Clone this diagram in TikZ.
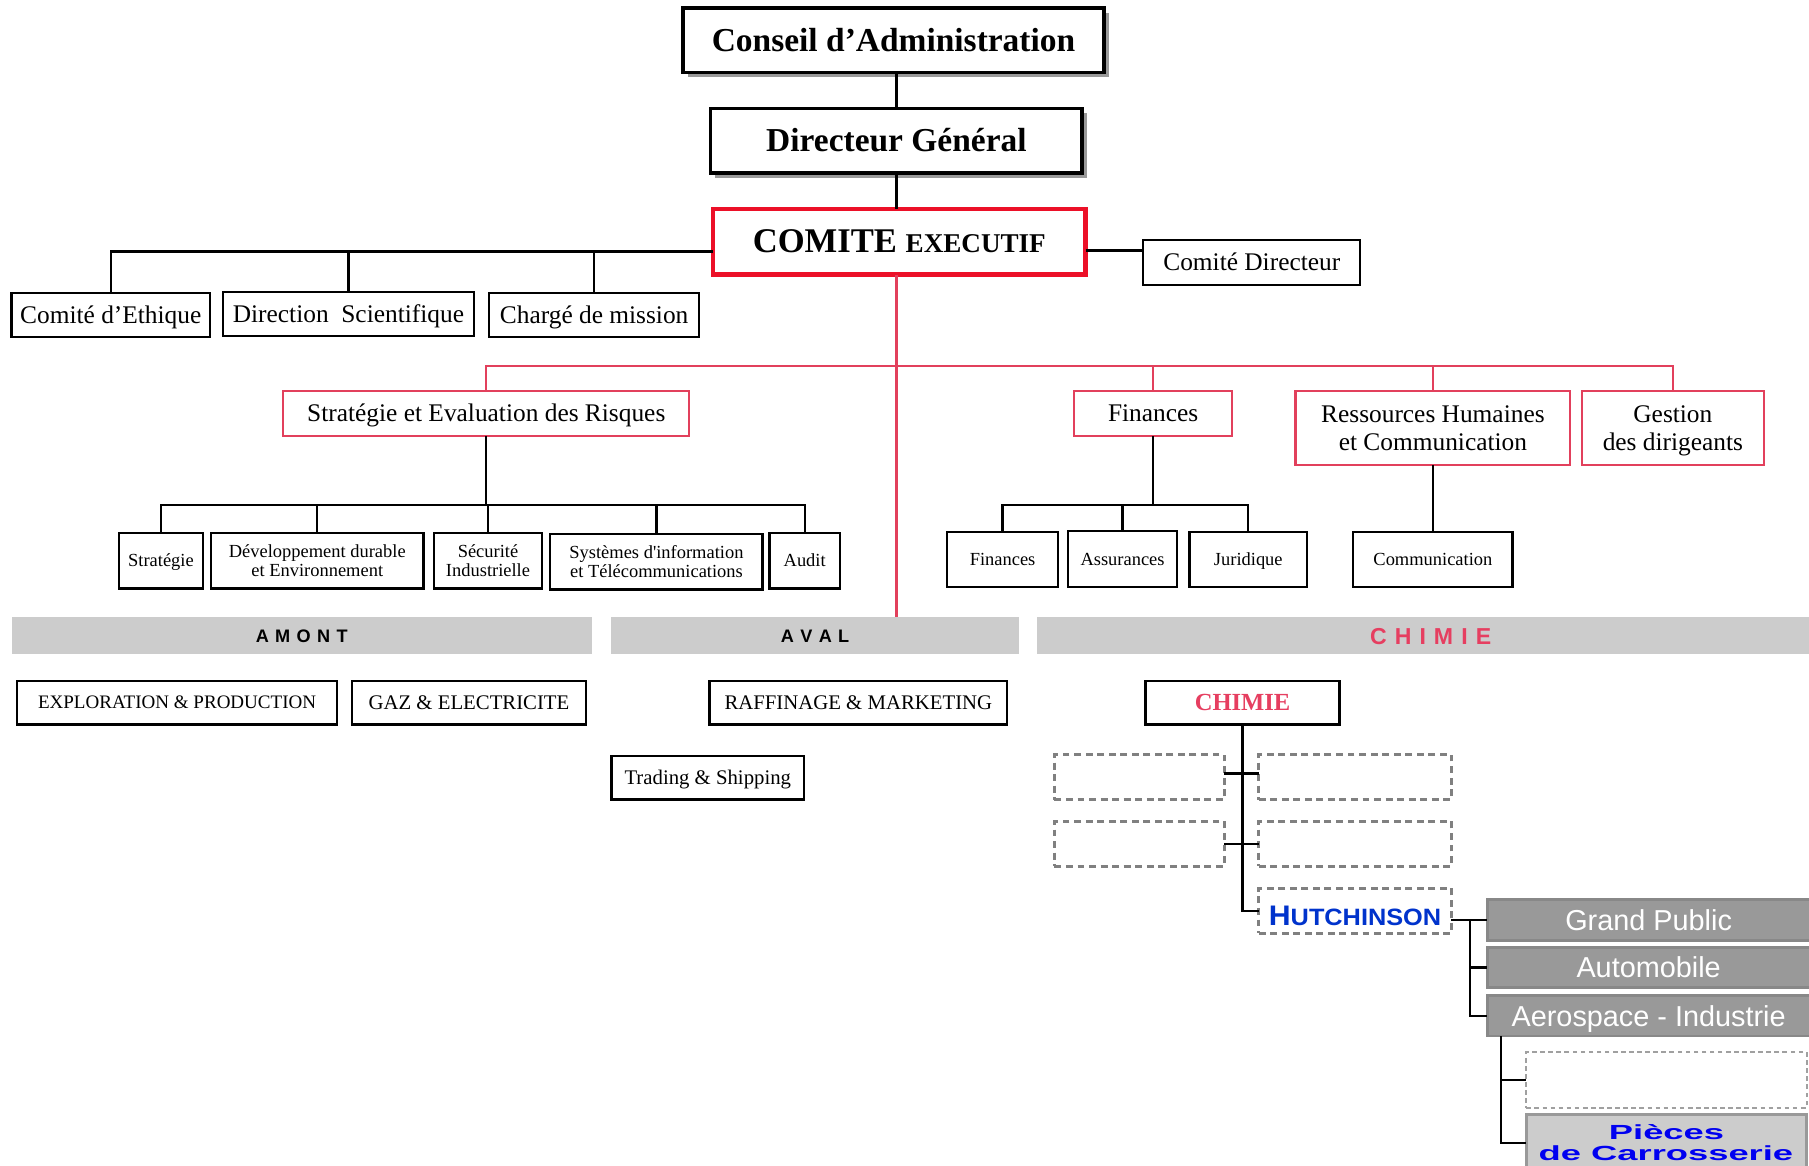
\documentclass[tikz,border=0pt]{standalone}
\usepackage{fontspec}
\usepackage{graphicx}
\setmainfont{Liberation Serif}
\newfontfamily\rawserif{Liberation Serif}
\newfontfamily\arialf{Liberation Sans}
\usetikzlibrary{shadows}
\definecolor{orgred}{RGB}{226,64,92}
\definecolor{exred}{RGB}{236,16,40}
\definecolor{chred}{RGB}{230,62,96}
\definecolor{hblue}{RGB}{0,51,204}
\definecolor{pblue}{RGB}{0,0,240}
\definecolor{hdrgray}{RGB}{204,204,204}
\definecolor{boxgray}{RGB}{153,153,153}
\definecolor{boxedge}{RGB}{136,136,136}
\definecolor{dashgray}{RGB}{128,128,128}
\definecolor{lightdash}{RGB}{160,160,160}
\newcommand\hsp{\kern.35em}
\begin{document}
\begin{tikzpicture}[x=1pt,y=-1pt,
  every node/.style={inner sep=0pt,outer sep=0pt},
  topbox/.style={draw=black,line width=3pt,fill=white,
    font=\fontsize{29}{31}\selectfont\bfseries,text height=19pt,text depth=0pt,
    drop shadow={shadow xshift=4pt,shadow yshift=-4pt,fill=black!40,opacity=1}},
  exbox/.style={draw=exred,line width=4pt,fill=white,font=\bfseries,
    text height=19.5pt,text depth=0pt,
    drop shadow={shadow xshift=2pt,shadow yshift=-2pt,fill=exred,opacity=1}},
  midbox/.style={draw=black,line width=2pt,fill=white,
    font=\fontsize{22}{24}\selectfont,text height=14.5pt,text depth=0pt},
  redone/.style={draw=orgred,line width=2pt,fill=white,
    font=\fontsize{22}{24}\selectfont,text height=14.5pt,text depth=0pt},
  redtwo/.style={draw=orgred,line width=2pt,fill=white,
    font=\fontsize{22}{24}\selectfont,align=center},
  smallone/.style={draw=black,line width=2pt,fill=white,
    font=\fontsize{16}{16.5}\selectfont,text height=10.6pt,text depth=0pt},
  smalltwo/.style={draw=black,line width=2pt,fill=white,
    font=\fontsize{16}{16.5}\selectfont,align=center},
  lowbox/.style={draw=black,line width=2pt,fill=white,
    font=\fontsize{18}{20}\selectfont,text height=11.9pt,text depth=0pt},
  hdr/.style={fill=hdrgray,minimum height=32pt,
    font=\arialf\bfseries\fontsize{15.7}{17}\selectfont,text height=11.3pt,text depth=0pt},
  dbox/.style={draw=dashgray,line width=2.5pt,dash pattern=on 6pt off 4pt,fill=white},
  gbox/.style={draw=boxedge,line width=2.5pt,fill=boxgray,text=white,
    font=\arialf\fontsize{25}{27}\selectfont,text height=18pt,text depth=0pt,
    minimum width=280pt,minimum height=35pt},
  conn/.style={line width=2pt,black},
  rconn/.style={line width=2pt,orgred}
]
\useasboundingbox (0,0) rectangle (1568,1010);

% --- top hierarchy ---
\node[topbox,minimum width=365pt,minimum height=56pt] (conseil) at (774.5,35) {Conseil d’Administration};
\node[topbox,minimum width=322pt,minimum height=56pt] (dg) at (777,122) {Directeur Général};
\node[exbox,minimum width=323pt,minimum height=57pt] (comex) at (779.5,209.5)
  {{\fontsize{30}{32}\selectfont COMITE\ }{\fontsize{23.5}{25}\selectfont EXECUTIF}};

\node[midbox,minimum width=172pt,minimum height=38pt] (ethique) at (96,273) {Comité d’Ethique};
\node[midbox,minimum width=218pt,minimum height=38pt] (dirsci) at (302,272) {Direction\ \ Scientifique};
\node[midbox,minimum width=182pt,minimum height=38pt] (charge) at (515,273) {Chargé de mission};
\node[midbox,minimum width=188pt,minimum height=39pt] (comdir) at (1085,227.5) {Comité Directeur};

% --- red level ---
\node[redone,minimum width=352pt,minimum height=39pt] (strat) at (421.5,358.5) {Stratégie et Evaluation des Risques};
\node[redone,minimum width=137pt,minimum height=39pt] (fin) at (999.5,358.5) {Finances};
\node[redtwo,minimum width=238pt,minimum height=64pt] (rh) at (1242,371) {Ressources Humaines\\et Communication};
\node[redtwo,minimum width=158pt,minimum height=64pt] (gest) at (1450,371) {Gestion\\des diri\smash{g}eants};

% --- small boxes ---
\node[smallone,minimum width=73pt,minimum height=48pt] (s1) at (139.5,486) {Stratégie};
\node[smalltwo,minimum width=184pt,minimum height=48pt] (s2) at (275,486) {Développement durable\\et Environnement};
\node[smalltwo,minimum width=94pt,minimum height=48pt] (s3) at (423,486) {Sécurité\\Industrielle};
\node[smalltwo,minimum width=184pt,minimum height=48pt] (s4) at (569,487) {Systèmes d{\rawserif'}information\\et Télécommunications};
\node[smallone,minimum width=61pt,minimum height=48pt] (s5) at (697.5,486) {Audit};

\node[smallone,minimum width=96pt,minimum height=48pt] (f1) at (869,485) {Finances};
\node[smallone,minimum width=94pt,minimum height=49pt] (f2) at (973,484.5) {Assurances};
\node[smallone,minimum width=102pt,minimum height=48pt] (f3) at (1082,485) {Juridique};
\node[smallone,minimum width=138pt,minimum height=48pt] (com) at (1242,485) {Communication};

% --- headers ---
\node[hdr,minimum width=503pt] (amont) at (261.5,551) {A\hsp M\hsp O\hsp N\hsp T};
\node[hdr,minimum width=353pt] (aval) at (706.5,551) {A\hsp V\hsp A\hsp L};
\node[hdr,minimum width=682pt,text=chred,font=\arialf\bfseries\fontsize{20}{22}\selectfont,text height=14.4pt] (chimieh) at (1240,551)
  {C\hsp H\hsp I\hsp M\hsp I\hsp E};

% --- branch boxes ---
\node[lowbox,minimum width=277pt,minimum height=38pt,font=\fontsize{16.5}{18}\selectfont,text height=10.9pt] (expl) at (153.5,609) {EXPLORATION \& PRODUCTION};
\node[lowbox,minimum width=203pt,minimum height=38pt] (gaz) at (406.5,609) {GAZ \& ELECTRICITE};
\node[lowbox,minimum width=258pt,minimum height=38pt] (raff) at (744,609) {RAFFINAGE \& MARKETING};
\node[lowbox,minimum width=167pt,minimum height=38pt] (trad) at (613.5,674) {Trading \& Shipping};
\node[lowbox,minimum width=168pt,minimum height=38pt,text=chred,font=\bfseries\fontsize{21.3}{23}\selectfont,text height=14pt] (chbox) at (1077,609) {CHIMIE};

% --- chimie sub tree ---
\node[dbox,minimum width=147pt,minimum height=39pt] (d1) at (987.5,673.5) {};
\node[dbox,minimum width=167pt,minimum height=39pt] (d2) at (1174.5,673.5) {};
\node[dbox,minimum width=147pt,minimum height=39pt] (d3) at (987.5,731.5) {};
\node[dbox,minimum width=167pt,minimum height=39pt] (d4) at (1174.5,731.5) {};
\node[dbox,minimum width=167pt,minimum height=39pt,text=hblue,font=\arialf\bfseries,text height=25pt,text depth=0pt] (hutch) at (1174.5,789.5)
  {\scalebox{1.07}[1]{{\fontsize{24.5}{26}\selectfont H}{\fontsize{20.5}{22}\selectfont UTCHINSON}}};

\node[gbox] (gp) at (1429,797.5) {Grand Public};
\node[gbox] (auto) at (1429,838.5) {Automobile};
\node[gbox] (aero) at (1429,880.5) {Aerospace - Industrie};

\node[draw=lightdash,line width=1.8pt,dash pattern=on 4pt off 3pt,fill=white,minimum width=243pt,minimum height=48pt] (d5) at (1444.5,936) {};
\node[draw=boxgray,line width=2.5pt,fill=hdrgray,minimum width=243pt,minimum height=49pt] (pieces) at (1444.5,990.5) {};
\node[anchor=base,text=pblue,font=\arialf\bfseries\fontsize{17.7}{19}\selectfont] (pt1) at (1444.5,987.5) {\scalebox{1.78}[1]{Pièces}};
\node[anchor=base,text=pblue,font=\arialf\bfseries\fontsize{17.7}{19}\selectfont] (pt2) at (1444,1006.3) {\scalebox{1.78}[1]{de Carrosserie}};

% --- connectors ---
\coordinate (cxl) at (618,218);
\coordinate (cxr) at (941,217);
\coordinate (rbus) at (777,317);
\coordinate (sbus) at (422,438);
\coordinate (fbus) at (999,438);
\coordinate (hj) at (1274,797.5);
\coordinate (aj) at (1301,898);

\draw[conn] (dg.north) -- (dg.north |- conseil.south);
\draw[conn] (dg.south) -- (dg.south |- comex.north);
\draw[conn] (cxl) -| (ethique.north);
\draw[conn] (dirsci.north) -- (dirsci.north |- cxl);
\draw[conn] (charge.north) -- (charge.north |- cxl);
\draw[conn] (cxr) -- (cxr -| comdir.west);

\draw[rconn] (dg.south |- comex.south) -- (dg.south |- aval.north);
\draw[rconn] (strat.north) |- (rbus) -| (gest.north);
\draw[rconn] (fin.north) -- (fin.north |- rbus);
\draw[rconn] (rh.north) -- (rh.north |- rbus);

\draw[conn] (strat.south) -- (strat.south |- sbus);
\draw[conn] (s1.north) |- (sbus) -| (s5.north);
\draw[conn] (s2.north) -- (s2.north |- sbus);
\draw[conn] (s3.north) -- (s3.north |- sbus);
\draw[conn] (s4.north) -- (s4.north |- sbus);

\draw[conn] (fin.south) -- (fin.south |- fbus);
\draw[conn] (f1.north) |- (fbus) -| (f3.north);
\draw[conn] (f2.north) -- (f2.north |- fbus);
\draw[conn] (rh.south) -- (com.north);

\draw[conn] (chbox.south) |- (hutch.west);
\draw[conn] ([yshift=3pt]d1.east) -- ([yshift=3pt]d2.west);
\draw[conn] (d3.east) -- (d4.west);
\draw[conn] (hutch.east |- gp.west) -- (gp.west);
\draw[conn] (gp.west -| hj) |- (aero.west);
\draw[conn] (auto.west -| hj) -- (auto.west);
\draw[conn] (aj) |- (pieces.west);
\draw[conn] (d5.west -| aj) -- (d5.west);
\end{tikzpicture}
\end{document}
